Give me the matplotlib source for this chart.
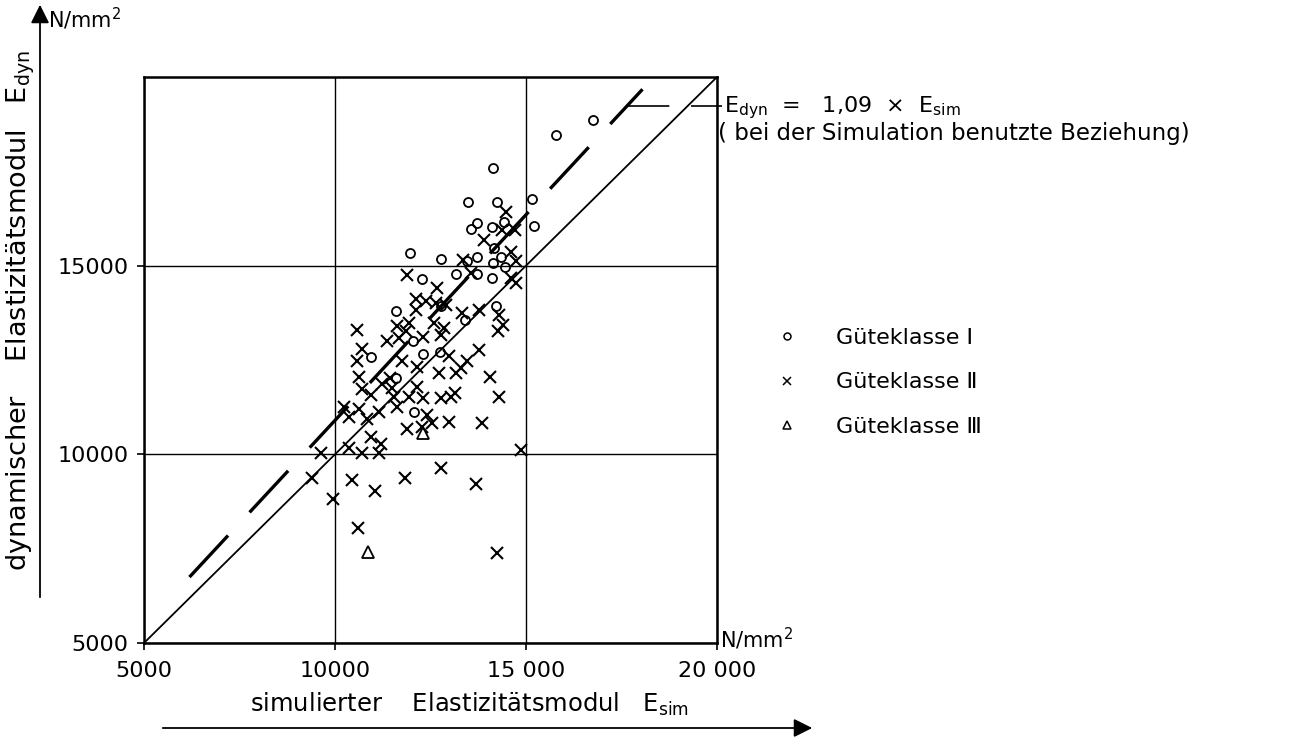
import matplotlib
matplotlib.use("Agg")
import matplotlib.pyplot as plt
from matplotlib.lines import Line2D
import numpy as np

plt.rcParams['font.family'] = ['DejaVu Sans']
plt.rcParams['mathtext.default'] = 'regular'

### Data
# Gueteklasse I (circles)
kl1_x = [15785, 16762, 14144, 13490, 14233, 15149, 13709, 13552, 14097, 14424, 15217, 14162,
         11963, 12764, 13443, 13709, 14338, 14128, 14450, 13158, 13725, 14100, 12269, 12766,
         11589, 13394, 14205, 12042, 10935, 12304, 12740, 11589, 12068]
kl1_y = [18464, 18862, 17598, 16697, 16697, 16760, 16125, 15967, 16035, 16168, 16042, 15460,
         15327, 15177, 15133, 15239, 15221, 15062, 14974, 14788, 14788, 14673, 14656, 13921,
         13788, 13549, 13921, 12992, 12576, 12664, 12700, 12018, 11133]
# Gueteklasse II (crosses)
kl2_x = [14476, 14364, 14712, 13901, 14599, 13338, 14751, 13551, 11894, 14597, 14728, 12679,
         12112, 12374, 12112, 12635, 12897, 13333, 13769, 14292, 14397, 14274, 10586, 11632,
         11938, 12592, 12853, 12766, 11371, 11850, 11676, 12304, 10699, 10586, 11763, 12984,
         13769, 12156, 12722, 13158, 13289, 13464, 10630, 11223, 11440, 11484, 10699, 10935,
         11545, 11938, 12156, 12309, 12766, 13028, 13140, 14048, 14292, 11632, 12417, 10237,
         10368, 10630, 10848, 11153, 11894, 12286, 12548, 12984, 13839, 10368, 10717, 11153,
         10935, 11200, 9627, 14859, 9390, 10435, 9955, 11047, 10610, 11832, 12767, 13691, 14249]
kl2_y = [16432, 15946, 15946, 15681, 15360, 15151, 15133, 14806, 14762, 14673, 14541, 14408,
         14116, 14054, 13832, 14010, 13965, 13744, 13832, 13700, 13434, 13257, 13284, 13390,
         13479, 13479, 13346, 13169, 12992, 13257, 13080, 13107, 12788, 12461, 12461, 12611,
         12753, 12310, 12151, 12151, 12284, 12461, 12045, 11868, 12015, 11750, 11726, 11576,
         11531, 11531, 11797, 11485, 11487, 11531, 11620, 12045, 11514, 11266, 11045, 11266,
         11000, 11195, 10930, 11133, 10664, 10735, 10823, 10868, 10824, 10160, 10045, 10045,
         10469, 10270, 10027, 10116, 9366, 9320, 8809, 9037, 8040, 9385, 9631, 9206, 7377]
# Gueteklasse III (triangles)
kl3_x = [12304, 10872]
kl3_y = [10558, 7420]

diag_x = [5000, 20000]           # E_dyn = E_sim
fit_x = np.array([6190, 18050])  # E_dyn = 1,09 x E_sim
fit_factor = 1.09

xticks = [5000, 10000, 15000, 20000]
xticklabels = ['5000', '10000', '15 000', '20 000']
yticks = [5000, 10000, 15000]
yticklabels = ['5000', '10000', '15000']
classes = ['Güteklasse Ⅰ', 'Güteklasse Ⅱ', 'Güteklasse Ⅲ']

W, H = 1312, 745
fig = plt.figure(figsize=(W / 100, H / 100), dpi=100)
ax = fig.add_axes([144 / W, 1 - 643 / H, (717 - 144) / W, (643 - 77) / H])

ax.set_xlim(5000, 20000)
ax.set_ylim(5000, 20000)
ax.set_xticks(xticks)
ax.set_xticklabels(xticklabels)
ax.set_yticks(yticks)
ax.set_yticklabels(yticklabels)
ax.tick_params(axis='both', labelsize=16, length=5, width=1.2, color='black')
ax.tick_params(axis='x', pad=8)
ax.tick_params(axis='y', pad=6)
ax.grid(True, color='black', lw=1.0)
for sp in ax.spines.values():
    sp.set_linewidth(1.8)

# reference lines
ax.plot(diag_x, diag_x, color='black', lw=1.3)
ax.plot(fit_x, fit_factor * fit_x, color='black', lw=2.4, linestyle=(0, (17, 9.5)),
        solid_capstyle='butt')
# leader to the annotation
ax.plot([17630, 20131], [19220, 19220], color='black', lw=1.2,
        linestyle=(0, (26, 13)), clip_on=False)

# data
ax.plot(kl1_x, kl1_y, 'o', mfc='none', mec='black', ms=6.5, mew=1.3, clip_on=False)
ax.plot(kl2_x, kl2_y, 'x', color='black', ms=8.5, mew=1.5, clip_on=False)
ax.plot(kl3_x, kl3_y, '^', mfc='none', mec='black', ms=9, mew=1.3, clip_on=False)

# annotation
fig.text(724 / W, 1 - 112 / H, r'E$_{dyn}$  =   1,09  ×  E$_{sim}$', fontsize=16,
         va='baseline')
fig.text(718 / W, 1 - 140 / H, '( bei der Simulation benutzte Beziehung)', fontsize=16.5,
         va='baseline')

# legend
handles = [Line2D([], [], marker='o', ls='none', mfc='none', mec='black', ms=5, mew=1.1),
           Line2D([], [], marker='x', ls='none', color='black', ms=6, mew=1.1),
           Line2D([], [], marker='^', ls='none', mfc='none', mec='black', ms=6, mew=1.1)]
fig.legend(handles, classes, loc='upper left', bbox_to_anchor=(776 / W, 1 - 328 / H),
           frameon=False, fontsize=16, handlelength=1.0, handletextpad=1.7,
           labelspacing=1.1, borderpad=0, borderaxespad=0)

# axis titles with arrows
fig.text(21 / W, 1 - 310 / H, r'dynamischer    Elastizitätsmodul   E$_{dyn}$', fontsize=19.5,
         rotation=90, ha='center', va='center')
fig.text(470 / W, 1 - 712 / H, r'simulierter    Elastizitätsmodul   E$_{sim}$', fontsize=17.5,
         ha='center', va='baseline')
ax.annotate('', xy=(815, H - 728), xytext=(160, H - 728), xycoords='figure pixels',
            textcoords='figure pixels',
            arrowprops=dict(arrowstyle='-|>', lw=1.3, color='black', mutation_scale=28))
ax.annotate('', xy=(40, H - 2), xytext=(40, H - 600), xycoords='figure pixels',
            textcoords='figure pixels',
            arrowprops=dict(arrowstyle='-|>', lw=1.3, color='black', mutation_scale=28))

# units
fig.text(48 / W, 1 - 28 / H, r'N/mm$^2$', fontsize=15, va='baseline')
fig.text(720 / W, 1 - 648 / H, r'N/mm$^2$', fontsize=15, va='baseline')

fig.savefig('out.png', dpi=100)
